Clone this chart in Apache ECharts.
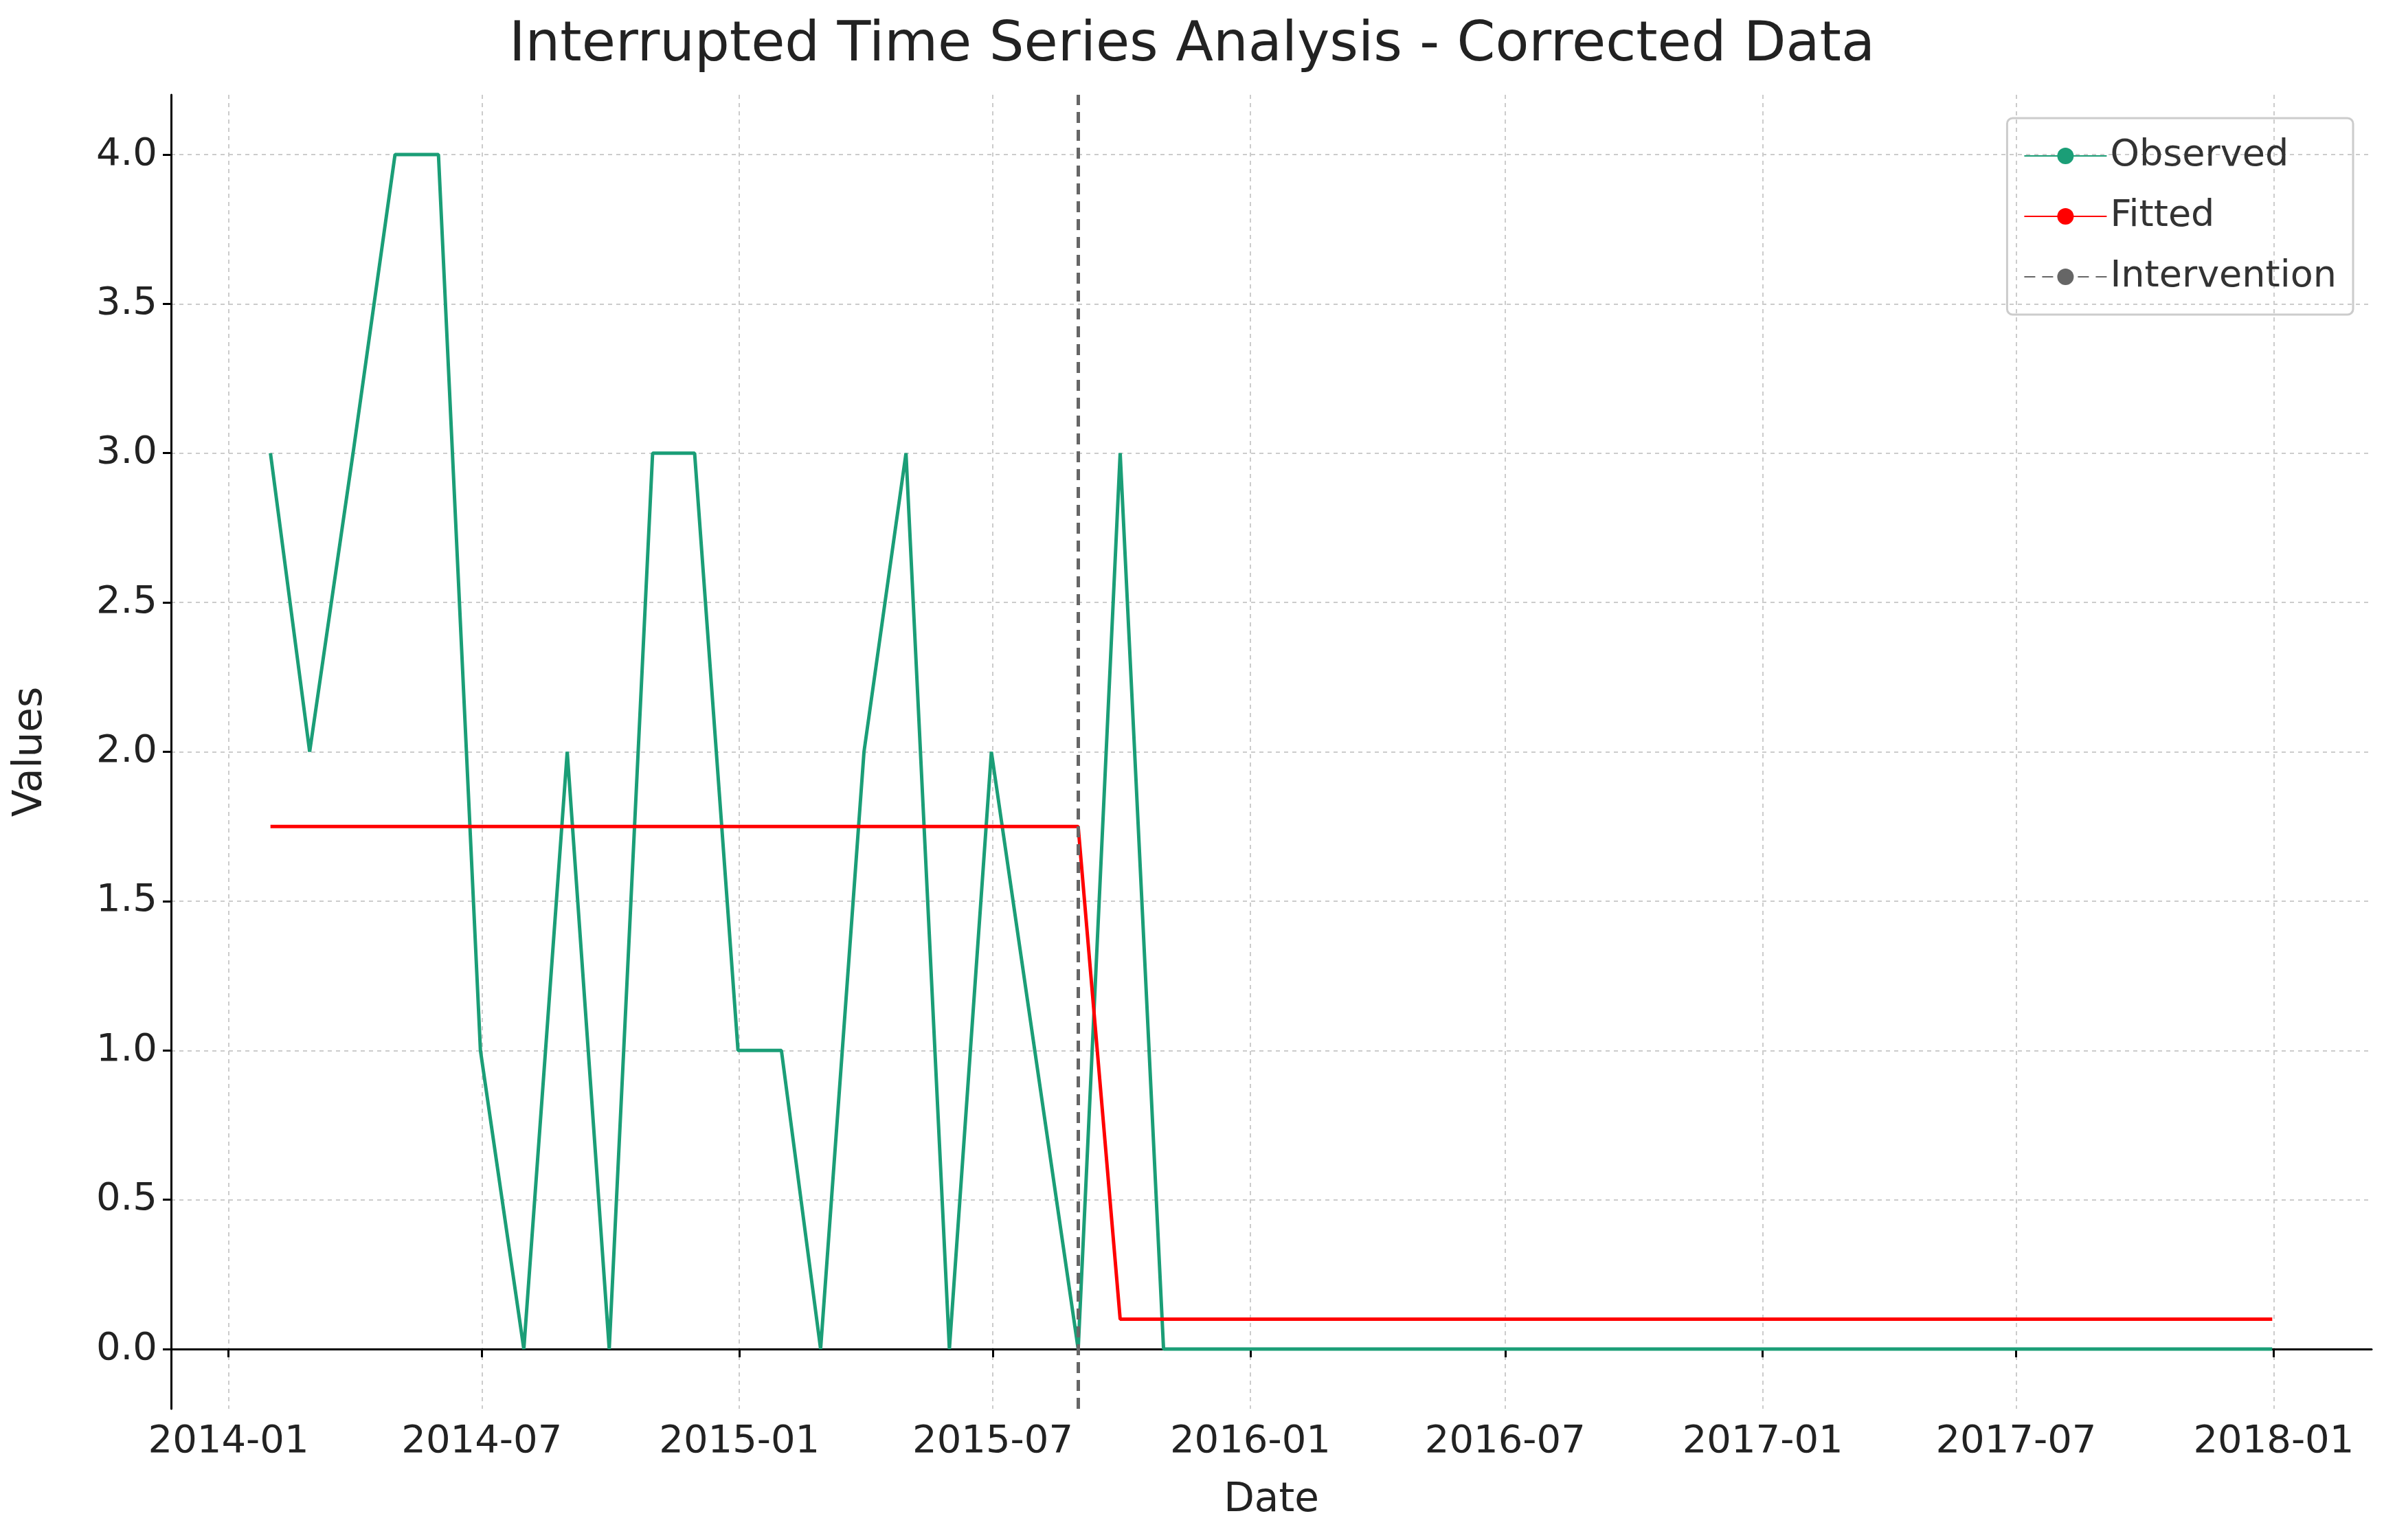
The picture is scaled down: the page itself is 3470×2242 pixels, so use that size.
<!DOCTYPE html>
<html><head><meta charset="utf-8">
<script src="https://cdn.jsdelivr.net/npm/echarts@6/dist/echarts.min.js"></script>
<style>html,body{margin:0;padding:0;background:#fff}#c{width:3470px;height:2242px}</style>
</head><body><div id="c"></div>
<script>
// month-end dates, 2014-01 .. 2017-12
var dates = [];
for (var y = 2014; y <= 2017; y++) {
    for (var m = 1; m <= 12; m++) {
        dates.push(Date.UTC(y, m, 0));
    }
}
var observed = [3, 2, 3, 4, 4, 1, 0, 2, 0, 3, 3, 1,
                1, 0, 2, 3, 0, 2, 1, 0, 3, 0, 0, 0,
                0, 0, 0, 0, 0, 0, 0, 0, 0, 0, 0, 0,
                0, 0, 0, 0, 0, 0, 0, 0, 0, 0, 0, 0];
var fitted = [1.75, 1.75, 1.75, 1.75, 1.75, 1.75, 1.75, 1.75, 1.75, 1.75, 1.75, 1.75,
              1.75, 1.75, 1.75, 1.75, 1.75, 1.75, 1.75, 1.75, 0.1, 0.1, 0.1, 0.1,
              0.1, 0.1, 0.1, 0.1, 0.1, 0.1, 0.1, 0.1, 0.1, 0.1, 0.1, 0.1,
              0.1, 0.1, 0.1, 0.1, 0.1, 0.1, 0.1, 0.1, 0.1, 0.1, 0.1, 0.1];
var intervention = Date.UTC(2015, 7, 31);
var tickLabels = ['2014-01', '2014-07', '2015-01', '2015-07', '2016-01', '2016-07', '2017-01', '2017-07', '2018-01'];
var tickValues = tickLabels.map(function (s) {
    var p = s.split('-');
    return Date.UTC(+p[0], +p[1] - 1, 1);
});
var yTicks = [0, 0.5, 1, 1.5, 2, 2.5, 3, 3.5, 4];

function pairs(vals) {
    return vals.map(function (v, i) { return [dates[i], v]; });
}
var font = 'DejaVu Sans';
var myChart = echarts.init(document.getElementById('c'));
var option = {
    animation: false,
    textStyle: { fontFamily: font },
    title: {
        text: 'Interrupted Time Series Analysis - Corrected Data',
        left: 'center', top: 22,
        textStyle: { fontSize: 80, fontWeight: 'normal', color: '#222', fontFamily: font }
    },
    legend: {
        orient: 'vertical', right: 45, top: 172,
        padding: [28, 24, 28, 24],
        itemWidth: 120, itemHeight: 30, itemGap: 34,
        borderColor: '#ccc', borderWidth: 3, borderRadius: 8,
        textStyle: { fontSize: 54, color: '#333', fontFamily: font },
        data: ['Observed', 'Fitted', 'Intervention']
    },
    grid: { left: 249, right: 18, top: 138, bottom: 191 },
    xAxis: {
        type: 'value',
        min: Date.UTC(2013, 10, 21), max: Date.UTC(2018, 2, 12),
        name: 'Date', nameLocation: 'middle', nameGap: 105,
        nameTextStyle: { fontSize: 58, color: '#222' },
        axisLine: { lineStyle: { color: '#000', width: 3 } },
        axisTick: { show: true, length: 12, lineStyle: { color: '#000', width: 3 }, customValues: tickValues },
        axisLabel: {
            fontSize: 56, color: '#222', margin: 20, customValues: tickValues,
            formatter: function (v) {
                var d = new Date(v);
                var mm = d.getUTCMonth() + 1;
                return d.getUTCFullYear() + '-' + (mm < 10 ? '0' : '') + mm;
            }
        },
        splitLine: { show: true, lineStyle: { color: '#ccc', type: [6, 6], width: 2 } }
    },
    yAxis: {
        type: 'value', min: -0.2, max: 4.2,
        name: 'Values', nameLocation: 'middle', nameGap: 175, nameRotate: 90,
        nameTextStyle: { fontSize: 58, color: '#222' },
        axisLine: { show: true, lineStyle: { color: '#000', width: 3 } },
        axisTick: { show: true, length: 12, lineStyle: { color: '#000', width: 3 }, customValues: yTicks },
        axisLabel: { fontSize: 56, color: '#222', margin: 20, customValues: yTicks,
            formatter: function (v) { return v.toFixed(1); } },
        splitLine: { show: true, lineStyle: { color: '#ccc', type: [6, 6], width: 2 } }
    },
    series: [
        {
            name: 'Observed', type: 'line', data: pairs(observed),
            showSymbol: false, symbol: 'none',
            lineStyle: { color: '#1b9e77', width: 5 }, itemStyle: { color: '#1b9e77' }
        },
        {
            name: 'Fitted', type: 'line', data: pairs(fitted),
            showSymbol: false, symbol: 'none',
            lineStyle: { color: '#ff0000', width: 5 }, itemStyle: { color: '#ff0000' }
        },
        {
            name: 'Intervention', type: 'line', data: [],
            showSymbol: false, symbol: 'none',
            lineStyle: { color: '#666', width: 5, type: [16, 10] }, itemStyle: { color: '#666' },
            markLine: {
                symbol: 'none', silent: true, label: { show: false },
                lineStyle: { color: '#666', width: 5, type: [16, 10] },
                data: [{ xAxis: intervention }]
            }
        }
    ]
};
myChart.setOption(option, true);
</script></body></html>
